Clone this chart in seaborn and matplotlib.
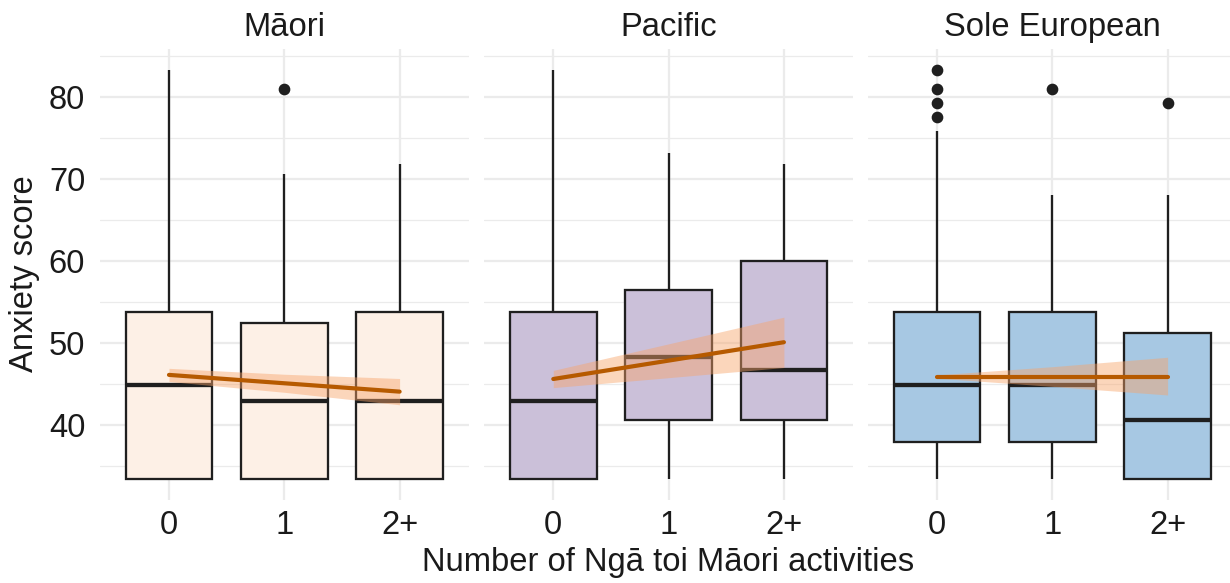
import numpy as np
import pandas as pd
import matplotlib
matplotlib.use("Agg")
import matplotlib.pyplot as plt
from matplotlib.ticker import FixedLocator
import seaborn as sns

# ---------------- data ----------------
groups = ["Māori", "Pacific", "Sole European"]
categories = ["0", "1", "2+"]
fills = ["#FDF0E6", "#CBC0D9", "#A7C8E3"]

whislo = {"Māori": [33.4, 33.4, 33.4],
          "Pacific": [33.4, 33.4, 33.4],
          "Sole European": [33.4, 33.4, 33.4]}
q1 = {"Māori": [33.4, 33.4, 33.4],
      "Pacific": [33.4, 40.57, 40.57],
      "Sole European": [37.89, 37.89, 33.4]}
med = {"Māori": [44.88, 42.96, 42.96],
       "Pacific": [42.96, 48.26, 46.67],
       "Sole European": [44.88, 44.88, 40.57]}
q3 = {"Māori": [53.74, 52.48, 53.74],
      "Pacific": [53.74, 56.46, 59.92],
      "Sole European": [53.74, 53.74, 51.18]}
whishi = {"Māori": [83.26, 70.57, 71.74],
          "Pacific": [83.26, 73.09, 71.74],
          "Sole European": [75.85, 67.96, 67.96]}
outliers = {"Māori": [[], [80.98], []],
            "Pacific": [[], [], []],
            "Sole European": [[83.26, 80.98, 79.23, 77.5], [80.98], [79.23]]}

fit_x = [0, 1, 2]
fit = {"Māori": [46.10, 45.08, 44.06],
       "Pacific": [45.60, 47.84, 50.08],
       "Sole European": [45.90, 45.90, 45.90]}
fit_lo = {"Māori": [45.30, 43.98, 42.46],
          "Pacific": [44.55, 45.76, 47.00],
          "Sole European": [45.70, 44.70, 43.65]}
fit_hi = {"Māori": [46.90, 46.18, 45.66],
          "Pacific": [46.65, 49.88, 53.13],
          "Sole European": [46.10, 47.10, 48.25]}

y_major = [40, 50, 60, 70, 80]
y_minor = [35, 45, 55, 65, 75, 85]

# ---------------- style ----------------
sns.set_theme(style="whitegrid")
plt.rcParams["font.family"] = ["Liberation Sans", "DejaVu Sans"]
DARK = "#1F1F1F"
TXT = "#1A1A1A"
GRID = "#EBEBEB"
LINE = "#B65A00"
BAND = "#F8A46A"
FS = 23.6

fig = plt.figure(figsize=(12.3, 5.83), dpi=100)
fig.patch.set_facecolor("white")

lefts = [99.8 / 1230, 484.1 / 1230, 867.8 / 1230]
bottom = (583 - 499.6) / 583
height = 450.2 / 583
width = 369.0 / 1230

allvals = []
for g in groups:
    allvals += whislo[g] + whishi[g] + sum(outliers[g], [])
ymin, ymax = min(allvals), max(allvals)
yr = ymax - ymin
ylim = (ymin - 0.05 * yr, ymax + 0.05 * yr)

for gi, g in enumerate(groups):
    ax = fig.add_axes([lefts[gi], bottom, width, height])
    ax.set_facecolor("white")
    ax.set_axisbelow(True)
    for s in ax.spines.values():
        s.set_visible(False)

    stats = []
    for ci, c in enumerate(categories):
        stats.append(dict(whislo=whislo[g][ci], q1=q1[g][ci], med=med[g][ci],
                          q3=q3[g][ci], whishi=whishi[g][ci],
                          fliers=np.array(outliers[g][ci]), label=c))
    ax.bxp(stats, positions=list(range(len(categories))), widths=0.75,
           patch_artist=True, showcaps=False, manage_ticks=False,
           boxprops=dict(facecolor=fills[gi], edgecolor=DARK, linewidth=1.65),
           medianprops=dict(color=DARK, linewidth=3.1, solid_capstyle="butt"),
           whiskerprops=dict(color=DARK, linewidth=1.65, solid_capstyle="butt"),
           flierprops=dict(marker="o", markerfacecolor=DARK, markeredgecolor=DARK,
                           markersize=7.4, linestyle="none"))

    ax.fill_between(fit_x, fit_lo[g], fit_hi[g], color=BAND, alpha=0.45,
                    linewidth=0, zorder=4)
    df = pd.DataFrame({"x": fit_x, "y": fit[g]})
    sns.lineplot(data=df, x="x", y="y", ax=ax, color=LINE, linewidth=3.0,
                 zorder=5, estimator=None)

    ax.set_xlim(-0.6, len(categories) - 1 + 0.6)
    ax.set_ylim(*ylim)
    ax.xaxis.set_major_locator(FixedLocator(list(range(len(categories)))))
    ax.set_xticklabels(categories)
    ax.yaxis.set_major_locator(FixedLocator(y_major))
    ax.yaxis.set_minor_locator(FixedLocator(y_minor))
    ax.grid(False)
    ax.grid(which="major", axis="both", color=GRID, linewidth=1.6)
    ax.grid(which="minor", axis="y", color=GRID, linewidth=0.9)
    ax.tick_params(which="both", length=0)
    ax.tick_params(axis="x", labelsize=FS, labelcolor=TXT, pad=7.5)
    ax.tick_params(axis="y", labelsize=FS, labelcolor=TXT, pad=10.5,
                   labelleft=(gi == 0))
    ax.set_xlabel("")
    ax.set_ylabel("")
    ax.set_title(g, fontsize=FS, color=TXT, pad=9.6)

fig.text(25 / 1230, (583 - 274) / 583, "Anxiety score", rotation=90,
         ha="center", va="center", fontsize=FS, color=TXT)
fig.text(668 / 1230, (583 - 563) / 583, "Number of Ngā toi Māori activities",
         ha="center", va="center", fontsize=FS, color=TXT)

fig.savefig("out.png", dpi=100, facecolor="white")
